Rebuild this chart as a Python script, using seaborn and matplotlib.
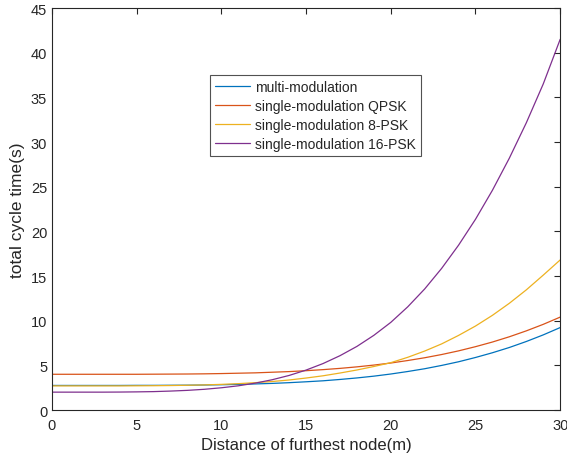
import matplotlib
matplotlib.use("Agg")
import matplotlib.pyplot as plt
import seaborn as sns
import pandas as pd

distance = list(range(0, 31))
multi_mod = [2.75, 2.75, 2.75, 2.75, 2.75, 2.76, 2.76, 2.77, 2.78, 2.80, 2.83,
             2.87, 2.92, 2.98, 3.06, 3.16, 3.27, 3.42, 3.59, 3.79, 4.03,
             4.31, 4.62, 4.99, 5.40, 5.88, 6.41, 7.00, 7.67, 8.41, 9.23]
qpsk = [4.00, 4.00, 4.00, 4.00, 4.00, 4.00, 4.01, 4.02, 4.03, 4.05, 4.08,
        4.12, 4.16, 4.23, 4.30, 4.40, 4.52, 4.66, 4.83, 5.03, 5.26,
        5.54, 5.85, 6.21, 6.62, 7.09, 7.61, 8.20, 8.86, 9.59, 10.40]
psk8 = [2.70, 2.70, 2.70, 2.70, 2.70, 2.71, 2.72, 2.74, 2.77, 2.81, 2.87,
        2.95, 3.06, 3.19, 3.36, 3.58, 3.83, 4.14, 4.48, 4.87, 5.30,
        5.90, 6.60, 7.40, 8.35, 9.40, 10.60, 11.95, 13.45, 15.10, 16.80]
psk16 = [2.00, 2.00, 2.00, 2.00, 2.01, 2.03, 2.06, 2.12, 2.20, 2.32, 2.49,
         2.71, 3.01, 3.39, 3.87, 4.47, 5.20, 6.08, 7.12, 8.36, 9.81,
         11.55, 13.55, 15.85, 18.45, 21.35, 24.60, 28.20, 32.15, 36.50, 41.50]
labels = ["multi-modulation", "single-modulation QPSK",
          "single-modulation 8-PSK", "single-modulation 16-PSK"]
colors = ["#0072BD", "#D95319", "#EDB120", "#7E2F8E"]

rows = []
for lab, vals in zip(labels, [multi_mod, qpsk, psk8, psk16]):
    for d, v in zip(distance, vals):
        rows.append({"Distance": d, "Time": v, "Series": lab})
df = pd.DataFrame(rows)

sns.set_style("white")
plt.rcParams['font.family'] = ['Liberation Sans', 'DejaVu Sans']

fig = plt.figure(figsize=(5.67, 4.64), dpi=100)
ax = fig.add_axes([0.0917, 0.1142, 0.8963, 0.8664])
sns.lineplot(data=df, x="Distance", y="Time", hue="Series", hue_order=labels,
             palette=colors, linewidth=0.9, ax=ax)

ax.set_xlim(0, 30)
ax.set_ylim(0, 45)
ax.set_xticks(range(0, 31, 5))
ax.set_yticks(range(0, 46, 5))
ax.set_xlabel("Distance of furthest node(m)", fontsize=12, color="#262626", labelpad=3)
ax.set_ylabel("total cycle time(s)", fontsize=12.5, color="#262626", labelpad=4)
ax.tick_params(direction="in", top=True, right=True, length=4, width=0.8,
               labelsize=10.5, colors="#262626", labelcolor="#262626")
ax.tick_params(axis="x", pad=6)
for s in ax.spines.values():
    s.set_color("#262626")
    s.set_linewidth(0.8)

leg = ax.legend(loc="upper left", bbox_to_anchor=(0.311, 0.834), fontsize=10,
                frameon=True, fancybox=False, edgecolor="#262626",
                handlelength=2.5, borderpad=0.35, labelspacing=0.37,
                handletextpad=0.4, borderaxespad=0)
leg.get_frame().set_linewidth(0.8)

fig.savefig("out.png", dpi=100)
